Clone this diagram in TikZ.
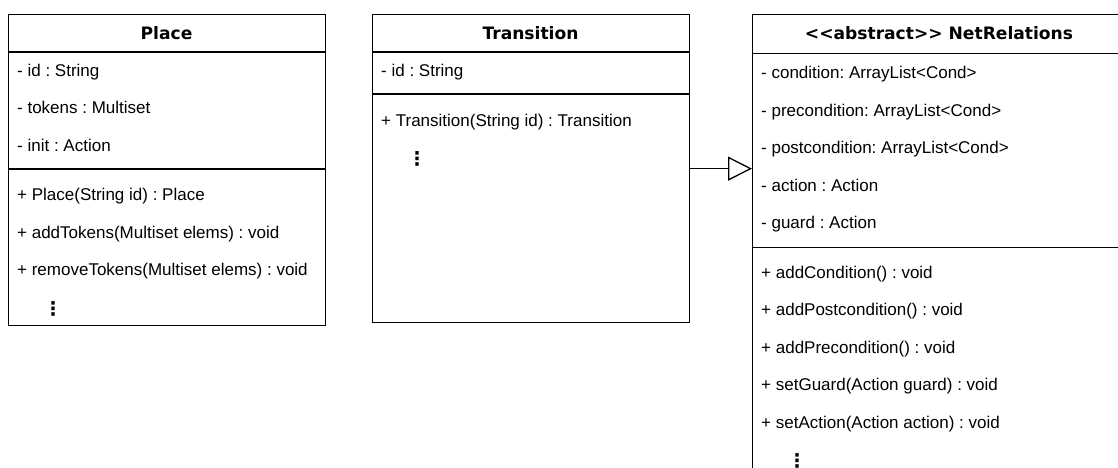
\documentclass[tikz,border=0pt]{standalone}
\usepackage{fontspec}
\setmainfont{Liberation Sans}
\newfontfamily\titlefont{DejaVu Sans}
\usetikzlibrary{arrows.meta}
\frenchspacing

\begin{document}
\begin{tikzpicture}[x=1pt,y=-1pt,
  classbox/.style={draw=black, line width=1.3pt, rectangle, anchor=north west, inner sep=0pt},
  sepline/.style={draw=black, line width=1.3pt},
  classname/.style={anchor=base, inner sep=0pt, font=\titlefont\bfseries\fontsize{17.1}{20}\selectfont},
  member/.style={anchor=base west, inner sep=0pt, font=\fontsize{17}{20}\selectfont},
  ellip/.style={anchor=center, inner sep=0pt, font=\titlefont\bfseries\fontsize{19}{22}\selectfont},
  generalization/.style={draw=black, line width=1.3pt,
    -{Triangle[open, length=24pt, width=24pt, line width=1.3pt, fill=white]}}
]
\clip (0,0) rectangle (1118,468);
\fill[white] (0,0) rectangle (1118,468);

% ---- Place ----
\node[classbox, minimum width=317pt, minimum height=311pt] (place) at (8,14) {};
\node[classname] (placeT) at (166.5,39.3) {Place};
\draw[sepline] (place.west |- 0,52) -- (place.east |- 0,52);
\node[member] (pa1) at (17,76.5) {- id : String};
\node[member] (pa2) at (17,113.8) {- tokens : Multiset};
\node[member] (pa3) at (17,151.1) {- init : Action};
\draw[sepline] (place.west |- 0,169) -- (place.east |- 0,169);
\node[member] (pm1) at (17,200.7) {+ Place(String id) : Place};
\node[member] (pm2) at (17,238) {+ addTokens(Multiset elems) : void};
\node[member] (pm3) at (17,275.3) {+ removeTokens(Multiset elems) : void};
\node[ellip] (pm4) at (53,309) {⋮};

% ---- Transition ----
\node[classbox, minimum width=317pt, minimum height=308pt] (trans) at (372,14) {};
\node[classname] (transT) at (530.5,39.3) {Transition};
\draw[sepline] (trans.west |- 0,52) -- (trans.east |- 0,52);
\node[member] (ta1) at (381,76.5) {- id : String};
\draw[sepline] (trans.west |- 0,94) -- (trans.east |- 0,94);
\node[member] (tm1) at (381,126) {+ Transition(String id) : Transition};
\node[ellip] (tm2) at (417,159.2) {⋮};

% ---- NetRelations ----
\node[classbox, minimum width=374pt, minimum height=480pt] (net) at (752,14) {};
\node[classname] (netT) at (939,39.3) {<<abstract>> NetRelations};
\draw[sepline] (net.west |- 0,53.3) -- (net.east |- 0,53.3);
\node[member] (na1) at (761,78.8) {- condition: ArrayList<Cond>};
\node[member] (na2) at (761,116.2) {- precondition: ArrayList<Cond>};
\node[member] (na3) at (761,153.6) {- postcondition: ArrayList<Cond>};
\node[member] (na4) at (761,191) {- action : Action};
\node[member] (na5) at (761,228.4) {- guard : Action};
\draw[sepline] (net.west |- 0,247.3) -- (net.east |- 0,247.3);
\node[member] (nm1) at (761,278.4) {+ addCondition() : void};
\node[member] (nm2) at (761,315.8) {+ addPostcondition() : void};
\node[member] (nm3) at (761,353.2) {+ addPrecondition() : void};
\node[member] (nm4) at (761,390.6) {+ setGuard(Action guard) : void};
\node[member] (nm5) at (761,428) {+ setAction(Action action) : void};
\node[ellip] (nm6) at (797,460.5) {⋮};

% ---- generalization ----
\draw[generalization] (trans.east) -- (net.west |- trans.east);
\end{tikzpicture}
\end{document}
